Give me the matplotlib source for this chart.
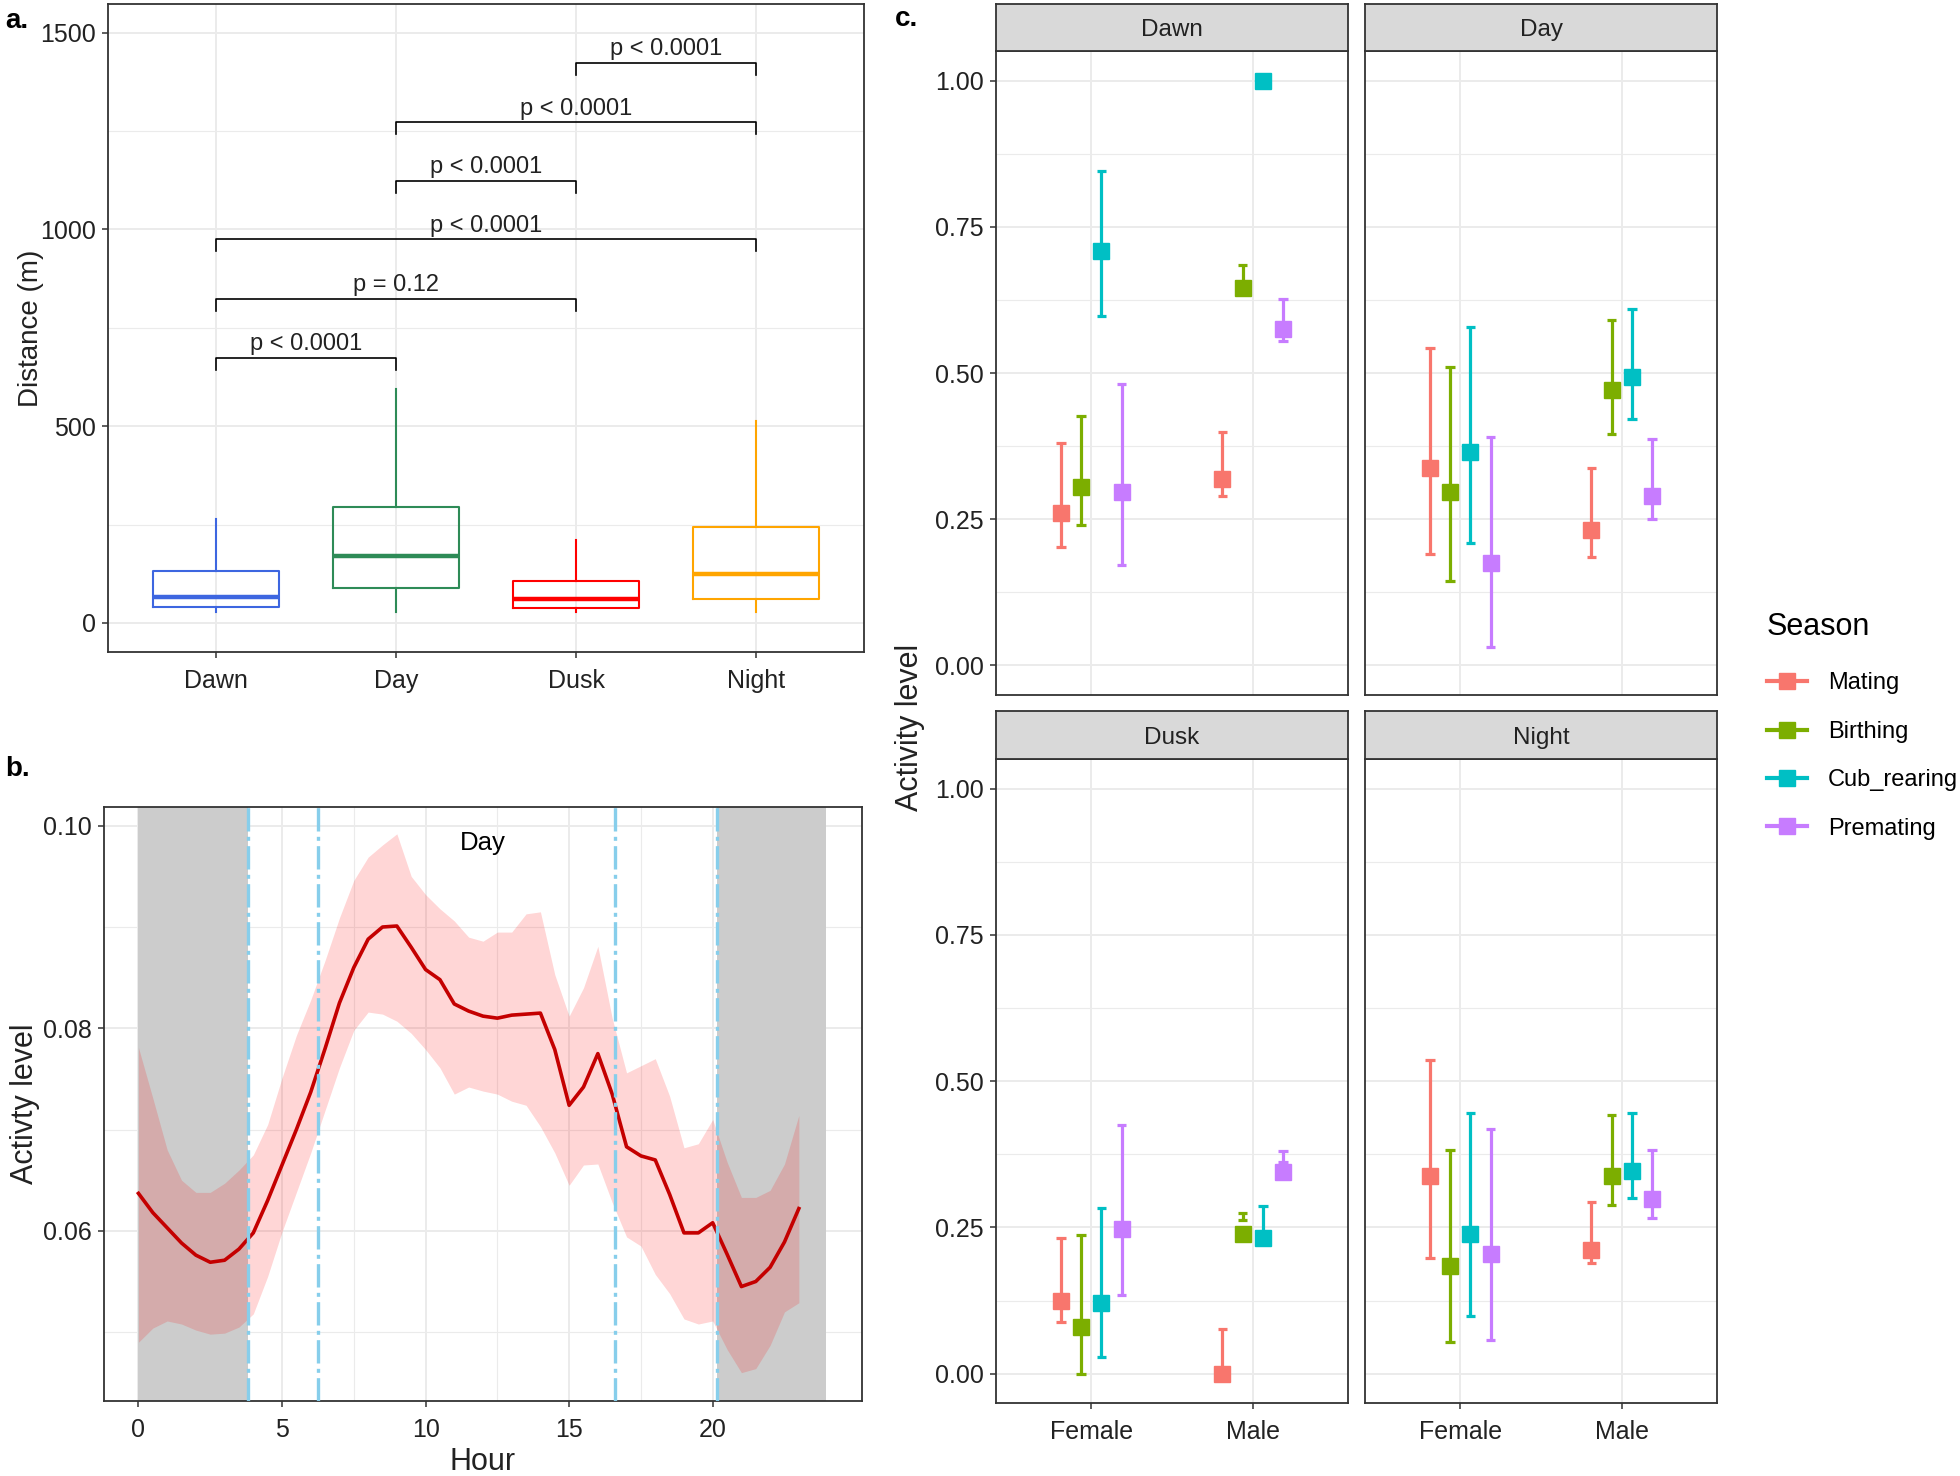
import matplotlib
matplotlib.use("Agg")
import matplotlib.pyplot as plt
import numpy as np
from matplotlib.lines import Line2D
from matplotlib.ticker import FixedLocator

plt.rcParams['font.family'] = ['Liberation Sans', 'DejaVu Sans']

# ---- panel a data: distance by period ----
periods = ["Dawn", "Day", "Dusk", "Night"]
box_colors = ["#3d66e0", "#2e8b57", "#ff0000", "#ffa500"]
box_whislo = [28, 28, 28, 28]
box_q1 = [40, 89, 37, 61]
box_med = [66, 170, 61, 125]
box_q3 = [131, 295, 106, 244]
box_whishi = [265, 594, 210, 512]

comp_left = [1, 1, 1, 2, 2, 3]
comp_right = [2, 3, 4, 3, 4, 4]
comp_y = [674, 824, 975, 1124, 1273, 1424]
comp_labels = ["p < 0.0001", "p = 0.12", "p < 0.0001",
               "p < 0.0001", "p < 0.0001", "p < 0.0001"]

# ---- panel b data: activity by hour ----
hours = [0, 0.5, 1, 1.5, 2, 2.5, 3, 3.5, 4, 4.5, 5, 5.5, 6, 6.5, 7, 7.5,
         8, 8.5, 9, 9.5, 10, 10.5, 11, 11.5, 12, 12.5, 13, 13.5, 14, 14.5,
         15, 15.5, 16, 16.5, 17, 17.5, 18, 18.5, 19, 19.5, 20, 20.5, 21,
         21.5, 22, 22.5, 23]
act_mean = [0.0637, 0.0618, 0.0603, 0.0588, 0.0576, 0.0569, 0.0571, 0.0582,
            0.0598, 0.0630, 0.0665, 0.0700, 0.0737, 0.0780, 0.0825, 0.0860,
            0.0888, 0.0900, 0.0901, 0.0880, 0.0858, 0.0848, 0.0824, 0.0817,
            0.0812, 0.0810, 0.0813, 0.0814, 0.0815, 0.0779, 0.0724, 0.0742,
            0.0775, 0.0735, 0.0683, 0.0674, 0.0670, 0.0636, 0.0598, 0.0598,
            0.0608, 0.0577, 0.0545, 0.0550, 0.0564, 0.0589, 0.0622]
act_upper = [0.0781, 0.0731, 0.0680, 0.0650, 0.0638, 0.0638, 0.0647, 0.0660,
             0.0675, 0.0705, 0.0751, 0.0793, 0.0828, 0.0867, 0.0909, 0.0946,
             0.0969, 0.0981, 0.0992, 0.0950, 0.0932, 0.0918, 0.0906, 0.0890,
             0.0886, 0.0895, 0.0895, 0.0913, 0.0915, 0.0853, 0.0812, 0.0840,
             0.0881, 0.0810, 0.0756, 0.0763, 0.0770, 0.0733, 0.0682, 0.0686,
             0.0710, 0.0668, 0.0633, 0.0633, 0.0640, 0.0666, 0.0714]
act_lower = [0.0490, 0.0504, 0.0511, 0.0508, 0.0502, 0.0498, 0.0499, 0.0505,
             0.0518, 0.0555, 0.0599, 0.0638, 0.0677, 0.0719, 0.0761, 0.0798,
             0.0816, 0.0814, 0.0807, 0.0795, 0.0779, 0.0761, 0.0735, 0.0742,
             0.0738, 0.0735, 0.0728, 0.0724, 0.0703, 0.0677, 0.0645, 0.0665,
             0.0666, 0.0628, 0.0594, 0.0585, 0.0557, 0.0538, 0.0513, 0.0508,
             0.0511, 0.0483, 0.0460, 0.0464, 0.0487, 0.0520, 0.0529]
night_start = [0, 20.15]
night_end = [3.83, 23.95]
phase_lines = [3.83, 6.27, 16.6, 20.15]

# ---- panel c data: activity by period, sex, season ----
# order: Dawn F, Dawn M, Day F, Day M, Dusk F, Dusk M, Night F, Night M
sexes = ["Female", "Male"]
seasons = ["Mating", "Birthing", "Cub_rearing", "Premating"]
season_colors = ["#F8766D", "#7CAE00", "#00BFC4", "#C77CFF"]
mating_mean = [0.261, 0.319, 0.338, 0.231, 0.125, 0.000, 0.338, 0.212]
mating_lo = [0.202, 0.289, 0.191, 0.185, 0.088, 0.000, 0.198, 0.190]
mating_hi = [0.381, 0.400, 0.542, 0.337, 0.232, 0.076, 0.537, 0.293]
birthing_mean = [0.305, 0.645, 0.296, 0.471, 0.080, 0.239, 0.184, 0.338]
birthing_lo = [0.240, 0.635, 0.144, 0.396, 0.000, 0.262, 0.055, 0.288]
birthing_hi = [0.427, 0.685, 0.511, 0.591, 0.237, 0.275, 0.382, 0.442]
cub_mean = [0.708, 1.000, 0.365, 0.494, 0.121, 0.232, 0.239, 0.346]
cub_lo = [0.597, 1.000, 0.209, 0.421, 0.029, 0.225, 0.098, 0.300]
cub_hi = [0.845, 1.000, 0.578, 0.609, 0.283, 0.287, 0.446, 0.446]
premating_mean = [0.296, 0.575, 0.176, 0.290, 0.247, 0.345, 0.204, 0.298]
premating_lo = [0.171, 0.555, 0.031, 0.250, 0.134, 0.362, 0.058, 0.267]
premating_hi = [0.481, 0.627, 0.391, 0.387, 0.425, 0.380, 0.418, 0.383]

W, H = 1960, 1476
GRID = "#ebebeb"
BORDER = "#333333"
TXT = "#222222"


def px_axes(fig, left, top, right, bottom):
    return fig.add_axes([left / W, 1 - bottom / H, (right - left) / W, (bottom - top) / H])


def style_bw(ax):
    for s in ax.spines.values():
        s.set_color(BORDER)
        s.set_linewidth(1.3)
    ax.grid(True, which="major", color=GRID, lw=1.4)
    ax.grid(True, which="minor", color=GRID, lw=0.8)
    ax.set_axisbelow(True)
    ax.tick_params(which="major", direction="out", length=4, width=1.1,
                   color=BORDER, labelsize=18, labelcolor=TXT, pad=5)
    ax.tick_params(which="minor", length=0)


fig = plt.figure(figsize=(W / 100, H / 100), dpi=100)

# ================= panel a =================
ax_a = px_axes(fig, 108, 4, 864, 652)
stats = []
for i in range(len(periods)):
    stats.append(dict(med=box_med[i], q1=box_q1[i], q3=box_q3[i],
                      whislo=box_whislo[i], whishi=box_whishi[i]))
pos = np.arange(1, len(periods) + 1)
bp = ax_a.bxp(stats, positions=pos, widths=0.7, showfliers=False, showcaps=False,
              patch_artist=False)
for i, c in enumerate(box_colors):
    bp["boxes"][i].set(color=c, lw=1.5)
    bp["medians"][i].set(color=c, lw=3.2)
    bp["whiskers"][2 * i].set(color=c, lw=1.5)
    bp["whiskers"][2 * i + 1].set(color=c, lw=1.5)

tick_h = 31
for l, r, y, lab in zip(comp_left, comp_right, comp_y, comp_labels):
    ax_a.plot([l, l, r, r], [y - tick_h, y, y, y - tick_h], color="black", lw=1.2)
    ax_a.text((l + r) / 2, y + 6, lab, ha="center", va="bottom", fontsize=17, color=TXT)

ax_a.set_xlim(0.4, 4.6)
ax_a.set_ylim(-74, 1573)
ax_a.set_xticks(pos)
ax_a.set_xticklabels(periods)
ax_a.set_yticks([0, 500, 1000, 1500])
ax_a.yaxis.set_minor_locator(FixedLocator([250, 750, 1250]))
style_bw(ax_a)
ax_a.tick_params(axis="x", pad=8)
ax_a.set_ylabel("Distance (m)", fontsize=20, color=TXT)
ax_a.yaxis.set_label_coords(-0.085, 0.5)

# ================= panel b =================
ax_b = px_axes(fig, 104, 807, 862, 1401)
for s, e in zip(night_start, night_end):
    ax_b.axvspan(s, e, color="#cccccc", lw=0, zorder=1)
ax_b.fill_between(hours, act_lower, act_upper, color="#ff0000", alpha=0.16, lw=0, zorder=2)
ax_b.plot(hours, act_mean, color="#c40000", lw=2.6, zorder=3, solid_joinstyle="round")
for x in phase_lines:
    ax_b.axvline(x, color="#87ceeb", lw=2.4, dashes=(7, 1.6, 1.2, 1.6), zorder=4)
ax_b.text(12.0, 0.0983, "Day", ha="center", va="center", fontsize=18.5, color="black", zorder=5)
ax_b.set_xlim(-1.2, 25.2)
ax_b.set_ylim(0.0432, 0.10185)
ax_b.set_xticks([0, 5, 10, 15, 20])
ax_b.xaxis.set_minor_locator(FixedLocator([2.5, 7.5, 12.5, 17.5, 22.5]))
ax_b.set_yticks([0.06, 0.08, 0.10])
ax_b.set_yticklabels(["0.06", "0.08", "0.10"])
ax_b.yaxis.set_minor_locator(FixedLocator([0.05, 0.07, 0.09]))
style_bw(ax_b)
ax_b.tick_params(axis="x", pad=8)
ax_b.set_xlabel("Hour", fontsize=22, color=TXT, labelpad=4)
ax_b.set_ylabel("Activty level", fontsize=22, color=TXT)
ax_b.yaxis.set_label_coords(-0.085, 0.5)

# ================= panel c =================
col_x = [(996, 1348), (1365, 1717)]
row_y = [(3.7, 51.4, 694.7), (711, 759.4, 1403)]
means = [mating_mean, birthing_mean, cub_mean, premating_mean]
los = [mating_lo, birthing_lo, cub_lo, premating_lo]
his = [mating_hi, birthing_hi, cub_hi, premating_hi]
dodge = 0.5
offsets = (np.arange(len(seasons)) - (len(seasons) - 1) / 2) * dodge / len(seasons)
cap = 0.03

for f, name in enumerate(periods):
    r, c = divmod(f, 2)
    xl, xr = col_x[c]
    st, pt, pb = row_y[r]
    ax = px_axes(fig, xl, pt, xr, pb)
    strip = px_axes(fig, xl, st, xr, pt)
    strip.set_facecolor("#d9d9d9")
    strip.set_xticks([])
    strip.set_yticks([])
    for s in strip.spines.values():
        s.set_color(BORDER)
        s.set_linewidth(1.3)
    strip.text(0.5, 0.45, name, ha="center", va="center", fontsize=17.5, color=TXT,
               transform=strip.transAxes)

    for k in range(len(seasons)):
        for j in range(len(sexes)):
            idx = 2 * f + j
            x = j + 1 + offsets[k]
            col = season_colors[k]
            ax.vlines(x, los[k][idx], his[k][idx], color=col, lw=2.3, zorder=3)
            ax.hlines([los[k][idx], his[k][idx]], x - cap, x + cap, color=col, lw=2.3, zorder=3)
            ax.plot(x, means[k][idx], marker="s", ms=12, color=col, mec=col, zorder=4)

    ax.set_xlim(0.41, 2.59)
    ax.set_ylim(-0.05, 1.05)
    ax.set_xticks([1, 2])
    ax.set_yticks([0, 0.25, 0.5, 0.75, 1.0])
    ax.yaxis.set_minor_locator(FixedLocator([0.125, 0.375, 0.625, 0.875]))
    style_bw(ax)
    if c == 0:
        ax.set_yticklabels(["0.00", "0.25", "0.50", "0.75", "1.00"])
    else:
        ax.tick_params(axis="y", which="major", length=0, labelleft=False)
    if r == 1:
        ax.set_xticklabels(sexes)
        ax.tick_params(axis="x", pad=8)
    else:
        ax.tick_params(axis="x", which="major", length=0, labelbottom=False)

fig.text(910 / W, 1 - 727 / H, "Activity level", rotation=90, ha="center", va="center",
         fontsize=22, color=TXT)

handles = [Line2D([0], [0], color=c, lw=3, marker="s", ms=12) for c in season_colors]
leg = fig.legend(handles, seasons, loc="upper left", bbox_to_anchor=(1755 / W, 1 - 600 / H),
                 frameon=False, fontsize=17, title="Season", title_fontsize=22,
                 handlelength=1.7, handletextpad=0.9, labelspacing=1.12, borderpad=0,
                 alignment="left")
leg._legend_box.sep = 22

# panel letters
fig.text(5 / W, 1 - 8 / H, "a.", fontsize=20, fontweight="bold", va="top")
fig.text(5 / W, 1 - 756 / H, "b.", fontsize=20, fontweight="bold", va="top")
fig.text(895 / W, 1 - 6 / H, "c.", fontsize=20, fontweight="bold", va="top")

fig.savefig("out.png", dpi=100)
